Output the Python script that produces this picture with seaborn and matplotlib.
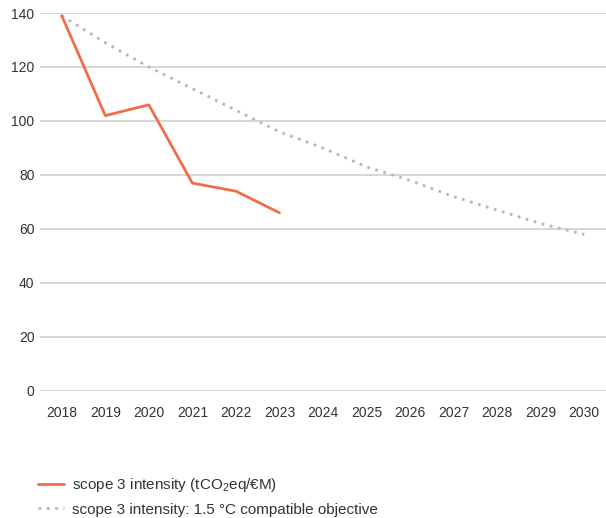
import matplotlib
matplotlib.use('Agg')
import matplotlib.pyplot as plt
import seaborn as sns
import pandas as pd

# data
years = [2018, 2019, 2020, 2021, 2022, 2023, 2024, 2025, 2026, 2027, 2028, 2029, 2030]
actual_years = [2018, 2019, 2020, 2021, 2022, 2023]
actual = [139, 102, 106, 77, 74, 66]
objective = [139, 129, 120, 112, 104, 96, 90, 83, 78, 72, 67, 62, 58]
y_ticks = [0, 20, 40, 60, 80, 100, 120, 140]

label_actual = 'scope 3 intensity (tCO$_2$eq/€M)'
label_obj = 'scope 3 intensity: 1.5 °C compatible objective'

sns.set_style('white')
plt.rcParams['font.family'] = ['Liberation Sans', 'DejaVu Sans']
plt.rcParams['mathtext.fontset'] = 'custom'
plt.rcParams['mathtext.rm'] = 'Liberation Sans'

df_act = pd.DataFrame({'year': actual_years, 'value': actual})
df_obj = pd.DataFrame({'year': years, 'value': objective})

fig = plt.figure(figsize=(6.06, 5.18), dpi=100)
ax = fig.add_axes([0.066, 0.2452, 0.934, 0.7297])

sns.lineplot(data=df_obj, x='year', y='value', ax=ax, color='#b3b8c0',
             linewidth=2.0, linestyle=(0, (1, 2.0)), label=label_obj)
sns.lineplot(data=df_act, x='year', y='value', ax=ax, color='#f26b4a',
             linewidth=2.0, label=label_actual)

ax.set_xlim(2017.5, 2030.5)
ax.set_ylim(0, 140)
ax.set_xticks(years)
ax.set_yticks(y_ticks)
ax.set_xlabel('')
ax.set_ylabel('')
ax.yaxis.grid(True, color='#d3d3d3', linewidth=1.3)
ax.xaxis.grid(False)
for s in ax.spines.values():
    s.set_visible(False)
ax.tick_params(axis='both', length=0, labelsize=10, labelcolor='#333333')
ax.tick_params(axis='x', pad=11)
ax.tick_params(axis='y', pad=4)

# legend below plot, actual series first
h, l = ax.get_legend_handles_labels()
ax.get_legend().remove()
leg = fig.legend([h[1], h[0]], [l[1], l[0]], loc='upper left',
                 bbox_to_anchor=(0.04, 0.107), frameon=False,
                 handlelength=1.7, handletextpad=0.55, labelspacing=0.55,
                 prop={'family': ['Liberation Sans', 'DejaVu Sans'], 'size': 11})
for t in leg.get_texts():
    t.set_color('#333333')

fig.savefig('out.png', dpi=100)
